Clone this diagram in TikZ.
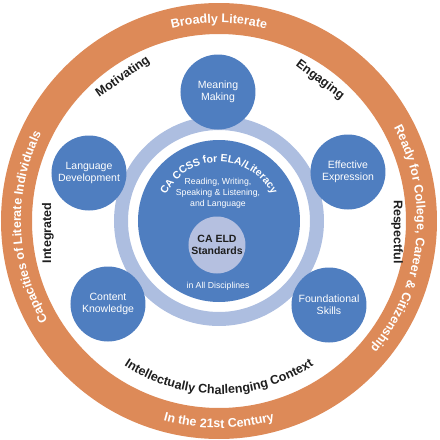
\documentclass[tikz,border=0pt]{standalone}
\usepackage{fontspec}
\setmainfont{Liberation Sans}
\usepackage{tikz,xcolor}
\usetikzlibrary{decorations.text}

\definecolor{bandorange}{HTML}{DD8A58}
\definecolor{capblue}{HTML}{4F7EC0}
\definecolor{ringblue}{HTML}{ADBEE0}
\definecolor{eldblue}{HTML}{B5C0E0}
\definecolor{labelgray}{HTML}{1E1E1E}

\newcommand{\bandfont}{\bfseries\fontsize{12.5}{15}\selectfont}

\tikzset{
  capacity/.style={circle, fill=capblue, minimum size=75pt, inner sep=0pt, align=center,
    text=white, font=\fontsize{10.5}{12}\selectfont},
  quality/.style={font=\bandfont, text=labelgray, inner sep=0pt},
  bandtext/.style={decorate, decoration={text along path, text align=center, text color=white, text={#1}}}
}

\begin{document}
\begin{tikzpicture}[x=1pt,y=1pt]
\useasboundingbox (-219,-219) rectangle (221,221);

% outer band and blue ring
\fill[bandorange, even odd rule] (0,0) circle (218pt) (0,0) circle (187pt);
\draw[ringblue, line width=14pt] (0,0) circle (98pt);
\node[circle, fill=capblue, minimum size=162pt, inner sep=0pt] (ccss) at (0,0) {};
\node[circle, fill=eldblue, minimum size=57pt, inner sep=0pt, align=center, text=labelgray,
  font=\bfseries\fontsize{10.5}{12}\selectfont] (eld) at (-2,-24) {CA ELD\\Standards};

\path[decorate, decoration={text along path, text align=center, text color=white,
  text={|\bfseries\fontsize{10.5}{12}\selectfont|CA CCSS for ELA/Literacy}}]
  (170:59) arc[start angle=170, end angle=10, radius=59pt];
\node[align=center, text=white, font=\fontsize{8.7}{11}\selectfont] (domains) at (-1,28)
  {Reading, Writing,\\Speaking \& Listening,\\and Language};
\node[text=white, font=\fontsize{8.7}{11}\selectfont] (discip) at (-1,-65) {in All Disciplines};

% five capacities
\node[capacity] (meaning) at (-1,129) {Meaning\\Making};
\node[capacity] (langdev) at (-130,48) {Language\\Development};
\node[capacity] (effexp) at (129,49) {Effective\\Expression};
\node[capacity] (content) at (-111,-83) {Content\\Knowledge};
\node[capacity] (found) at (110,-84) {Foundational\\Skills};

% context words
\node[quality, rotate=35] (motiv) at (-96,144) {Motivating};
\node[quality, rotate=-37] (engag) at (101,141) {Engaging};
\node[quality, rotate=90] (integ) at (-171,-12) {Integrated};
\node[quality, rotate=-90] (respect) at (178,-11) {Respectful};
\path[decorate, decoration={text along path, text align=center, text color=labelgray,
  text={|\bandfont|Intellectually Challenging Context}}]
  (195:173) arc[start angle=195, end angle=345, radius=173pt];

% band texts
\path[bandtext={|\bandfont|Broadly Literate}] (150:198) arc[start angle=150, end angle=30, radius=198pt];
\path[bandtext={|\bandfont|Ready for College, Career {\&} Citizenship}] (50:198) arc[start angle=50, end angle=-62, radius=198pt];
\path[bandtext={|\bandfont|Capacities of Literate Individuals}] (250:198) arc[start angle=250, end angle=114, radius=198pt];
\path[bandtext={|\bandfont|In the 21st Century}] (220:207) arc[start angle=220, end angle=320, radius=207pt];

\end{tikzpicture}
\end{document}
